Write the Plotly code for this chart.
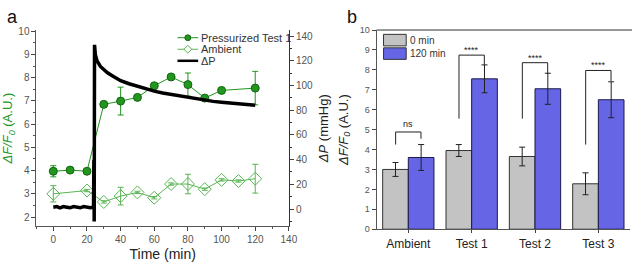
import plotly.graph_objects as go

# ---------------- Panel a data ----------------
t_press = [0, 10, 20, 30, 40, 50, 60, 70, 80, 90, 100, 120]
f_press = [3.97, 4.02, 3.97, 6.85, 6.99, 7.15, 7.65, 8.03, 7.7, 7.12, 7.45, 7.55]
e_press = [0.24, 0.05, 0.05, 0.05, 0.6, 0.05, 0.05, 0.05, 0.5, 0.05, 0.05, 0.72]

t_amb = [0, 20, 30, 40, 50, 60, 70, 80, 90, 100, 110, 120]
f_amb = [3.0, 3.14, 2.65, 2.9, 3.06, 2.83, 3.42, 3.42, 3.2, 3.6, 3.55, 3.65]
e_amb = [0.35, 0.05, 0.05, 0.38, 0.05, 0.05, 0.05, 0.42, 0.05, 0.05, 0.05, 0.62]

t_dp = [0, 2, 4, 6, 8, 10, 12, 14, 16, 18, 20, 22, 23.9, 24.1, 24.3, 24.5, 25, 26, 27, 28,
        30, 32, 35, 40, 45, 50, 55, 60, 65, 70, 75, 80, 85, 90, 95, 100, 105, 110, 115, 120]
dp = [1.5, 2.0, 1.0, 2.0, 1.5, 1.0, 2.0, 1.5, 1.0, 2.0, 1.5, 1.0, 1.5, 40, -10, 133, 125, 120, 117, 115.5,
      113, 110.5, 108, 104, 101.5, 99.4, 97.5, 95.5, 94, 92.8, 91.5, 90.2, 89, 88, 87.2, 86.5, 85.7, 85, 84.5, 84]

legend_a = ["Pressurized Test 1", "Ambient", "ΔP"]

# ---------------- Panel b data ----------------
groups = ["Ambient", "Test 1", "Test 2", "Test 3"]
v0 = [3.0, 3.95, 3.65, 2.28]
e0 = [0.35, 0.3, 0.47, 0.55]
v120 = [3.6, 7.55, 7.05, 6.5]
e120 = [0.65, 0.7, 0.78, 0.9]
sig = ["ns", "****", "****", "****"]
br_top = [4.88, 8.74, 8.36, 7.97]
br_left = [4.25, 5.55, 5.55, 4.25]
br_right = [4.54, 8.26, 7.8, 7.44]
legend_b = ["0 min", "120 min"]

G_P = "#23961f"
G_A = "#58b552"
GRAY = "#c3c3c3"
BLUE = "#6565e6"
TICKC = "#555555"
FONT = "Liberation Sans, Arial, sans-serif"
W, H = 641, 265


def px(x):
    return x / W


def py(y):
    return 1 - y / H


fig = go.Figure()

# Pressure (right axis)
fig.add_trace(go.Scatter(x=t_dp, y=dp, mode="lines", name=legend_a[2],
                         line=dict(color="black", width=3.5), xaxis="x", yaxis="y2", showlegend=False))
fig.add_trace(go.Scatter(x=t_press, y=f_press, mode="lines+markers", name=legend_a[0],
                         line=dict(color=G_P, width=1),
                         marker=dict(symbol="circle", size=8, color=G_P, line=dict(color="#116611", width=1)),
                         error_y=dict(type="data", array=e_press, color=G_P, thickness=1, width=3),
                         xaxis="x", yaxis="y", showlegend=False))
fig.add_trace(go.Scatter(x=t_amb, y=f_amb, mode="lines+markers", name=legend_a[1],
                         line=dict(color=G_A, width=1),
                         marker=dict(symbol="diamond-open", size=10, color=G_A, line=dict(width=1)),
                         error_y=dict(type="data", array=e_amb, color=G_A, thickness=1, width=3),
                         xaxis="x", yaxis="y", showlegend=False))

# Panel b bars
xi = list(range(len(groups)))
fig.add_trace(go.Bar(x=xi, y=v0, name=legend_b[0], marker=dict(color=GRAY, line=dict(color="#333333", width=1)),
                     error_y=dict(type="data", array=e0, color="#222222", thickness=1, width=3),
                     xaxis="x3", yaxis="y3", showlegend=False, offsetgroup="a"))
fig.add_trace(go.Bar(x=xi, y=v120, name=legend_b[1], marker=dict(color=BLUE, line=dict(color="#1a1a4a", width=1)),
                     error_y=dict(type="data", array=e120, color="#222222", thickness=1, width=3),
                     xaxis="x3", yaxis="y3", showlegend=False, offsetgroup="b"))

# significance brackets
off = 0.2
for i in xi:
    fig.add_shape(type="path", xref="x3", yref="y3",
                  path=f"M {i-off} {br_left[i]} L {i-off} {br_top[i]} L {i+off} {br_top[i]} L {i+off} {br_right[i]}",
                  line=dict(color="#222222", width=1))
    fig.add_annotation(x=i, y=br_top[i], xref="x3", yref="y3", text=sig[i], showarrow=False,
                       yanchor="bottom", yshift=1 if sig[i] == "ns" else -2,
                       font=dict(size=9, color="#222222"))

# ---- manual legend, panel a ----
rows = [34, 46, 58]
lcols = [G_P, G_A, "black"]
lw = [1, 1, 2.5]
for k, (name, yy) in enumerate(zip(legend_a, rows)):
    fig.add_shape(type="line", xref="paper", yref="paper", x0=px(180), x1=px(201), y0=py(yy), y1=py(yy),
                  line=dict(color=lcols[k], width=lw[k]))
    fig.add_annotation(x=px(202), y=py(yy), xref="paper", yref="paper", text=name, showarrow=False,
                       xanchor="left", yanchor="middle", font=dict(size=11, color="#333333"))
# marker glyphs in legend
fig.add_shape(type="circle", xref="paper", yref="paper", x0=px(187.5), x1=px(193.5), y0=py(37), y1=py(31),
              fillcolor=G_P, line=dict(color="#116611", width=1))
cx, cy = 190.5, 46
fig.add_shape(type="path", xref="paper", yref="paper",
              path=f"M {px(cx-4)} {py(cy)} L {px(cx)} {py(cy-4)} L {px(cx+4)} {py(cy)} L {px(cx)} {py(cy+4)} Z",
              fillcolor="white", line=dict(color=G_A, width=1))

# ---- manual legend, panel b ----
for k, (name, yy, col) in enumerate(zip(legend_b, [36.5, 50.5], [GRAY, BLUE])):
    fig.add_shape(type="rect", xref="paper", yref="paper", x0=px(389), x1=px(412), y0=py(yy-6), y1=py(yy+6),
                  fillcolor=col, line=dict(color="#333333", width=1))
    fig.add_annotation(x=px(414), y=py(yy), xref="paper", yref="paper", text=name, showarrow=False,
                       xanchor="left", yanchor="middle", font=dict(size=10, color="#333333"))

fig.update_layout(
    width=W, height=H, margin=dict(l=0, r=0, t=0, b=0),
    paper_bgcolor="white", plot_bgcolor="white",
    font=dict(family=FONT, size=10, color=TICKC),
    barmode="group", bargap=0.19, bargroupgap=0, showlegend=False,
    xaxis=dict(domain=[px(37), px(293)], range=[-10, 140], anchor="y",
               tickvals=[0, 20, 40, 60, 80, 100, 120, 140], ticks="outside", ticklen=4,
               minor=dict(dtick=10, ticks="outside", ticklen=2, tickcolor=TICKC),
               showline=True, linecolor=TICKC, linewidth=1, showgrid=False, zeroline=False,
               tickfont=dict(size=10, color=TICKC),
               title=dict(text="Time (min)", font=dict(size=14, color="#222222"), standoff=4)),
    yaxis=dict(domain=[py(230), py(26)], range=[1.6, 10.05], anchor="x",
               tickvals=[2, 3, 4, 5, 6, 7, 8, 9, 10], ticks="outside", ticklen=4,
               minor=dict(dtick=0.5, ticks="outside", ticklen=2, tickcolor=TICKC),
               showline=True, linecolor=TICKC, linewidth=1, showgrid=False, zeroline=False,
               tickfont=dict(size=10, color=TICKC),
               title=dict(text="<i>ΔF/F<sub>0</sub></i> (A.U.)", font=dict(size=13, color=G_P), standoff=8)),
    yaxis2=dict(domain=[py(230), py(26)], range=[-14, 145], overlaying="y", side="right", anchor="x",
                tickvals=[0, 20, 40, 60, 80, 100, 120, 140], ticks="outside", ticklen=4,
                minor=dict(dtick=10, ticks="outside", ticklen=2, tickcolor="#333333"),
                showline=True, linecolor="#333333", linewidth=1, showgrid=False, zeroline=False,
                tickfont=dict(size=10, color=TICKC),
                title=dict(text="<i>ΔP</i> (mmHg)", font=dict(size=13, color="#222222"), standoff=6)),
    xaxis3=dict(domain=[px(382), px(639)], range=[-0.5, 3.5], anchor="y3",
                tickvals=xi, ticktext=groups, ticks="outside", ticklen=3,
                showline=True, linecolor="#555555", linewidth=1, showgrid=False, zeroline=False,
                tickfont=dict(size=12, color="#222222")),
    yaxis3=dict(domain=[py(233), py(26)], range=[0, 10], anchor="x3",
                dtick=1, ticks="outside", ticklen=4,
                showline=True, linecolor="#555555", linewidth=1, showgrid=False, zeroline=False,
                tickfont=dict(size=9, color=TICKC),
                title=dict(text="<i>ΔF/F<sub>0</sub></i> (A.U.)", font=dict(size=13, color="#222222"), standoff=8)),
)

# top frame line of panel b
fig.add_shape(type="line", xref="paper", yref="paper", x0=px(382), x1=1, y0=py(26), y1=py(26),
              line=dict(color="#333333", width=1))

# panel labels
fig.add_annotation(x=px(5), y=py(12), xref="paper", yref="paper", text="a", showarrow=False,
                   font=dict(size=18, color="#111111"), xanchor="left", yanchor="middle")
fig.add_annotation(x=px(350), y=py(12), xref="paper", yref="paper", text="b", showarrow=False,
                   font=dict(size=18, color="#111111"), xanchor="left", yanchor="middle")

fig.write_html("out.html")
